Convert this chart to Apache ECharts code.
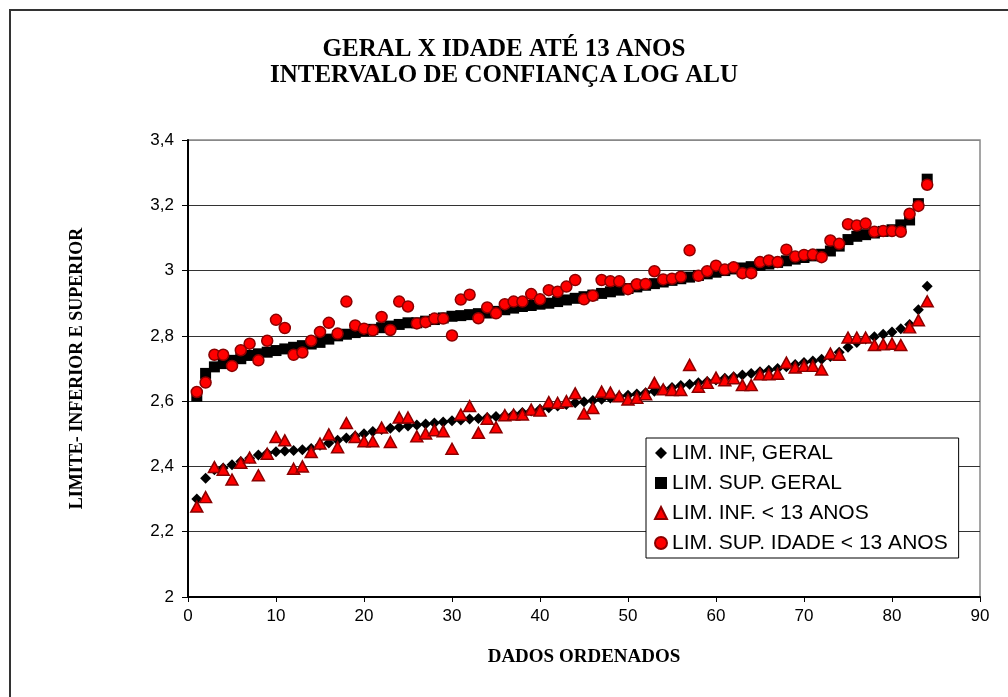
<!DOCTYPE html>
<html>
<head>
<meta charset="utf-8">
<script src="https://cdn.jsdelivr.net/npm/echarts@6/dist/echarts.min.js"></script>
<style>
html,body{margin:0;padding:0;background:#fff;}
#chart{width:1008px;height:697px;}
</style>
</head>
<body>
<div id="chart"></div>
<script>
// ---- DATA ----
var titleLines = ['GERAL X IDADE ATÉ 13 ANOS', 'INTERVALO DE CONFIANÇA LOG ALU'];
var xAxisName = 'DADOS ORDENADOS';
var yAxisName = 'LIMITE- INFERIOR E SUPERIOR';
var seriesNames = ['LIM. INF, GERAL', 'LIM. SUP. GERAL', 'LIM. INF. < 13 ANOS', 'LIM. SUP. IDADE < 13 ANOS'];
var xTicks = [0, 10, 20, 30, 40, 50, 60, 70, 80, 90];
var yTicks = [2, 2.2, 2.4, 2.6, 2.8, 3, 3.2, 3.4];

var limInfGeral = [2.300,2.364,2.390,2.395,2.405,2.415,2.425,2.435,2.440,2.445,
  2.447,2.449,2.451,2.455,2.465,2.472,2.480,2.487,2.493,2.500,
  2.507,2.513,2.517,2.520,2.524,2.527,2.530,2.533,2.536,2.540,
  2.542,2.545,2.547,2.550,2.553,2.556,2.560,2.565,2.570,2.575,
  2.580,2.585,2.590,2.595,2.598,2.602,2.606,2.610,2.614,2.618,
  2.622,2.626,2.630,2.636,2.642,2.648,2.652,2.656,2.660,2.665,
  2.670,2.675,2.680,2.685,2.690,2.695,2.700,2.705,2.712,2.718,
  2.723,2.728,2.737,2.750,2.765,2.780,2.790,2.797,2.805,2.812,
  2.822,2.835,2.880,2.952];

var limSupGeral = [2.615,2.685,2.705,2.715,2.725,2.730,2.740,2.745,2.750,2.755,
  2.760,2.765,2.770,2.775,2.780,2.790,2.800,2.805,2.810,2.815,
  2.820,2.825,2.830,2.835,2.840,2.840,2.845,2.850,2.855,2.860,
  2.862,2.865,2.868,2.870,2.875,2.880,2.885,2.890,2.893,2.897,
  2.900,2.905,2.910,2.915,2.920,2.925,2.930,2.935,2.940,2.945,
  2.950,2.955,2.960,2.965,2.970,2.975,2.980,2.985,2.990,2.995,
  3.000,3.005,3.008,3.012,3.016,3.020,3.025,3.030,3.035,3.040,
  3.045,3.050,3.060,3.075,3.095,3.105,3.110,3.115,3.120,3.125,
  3.140,3.155,3.205,3.280];

var limInf13 = [2.277,2.306,2.398,2.390,2.360,2.411,2.427,2.373,2.439,2.490,
  2.480,2.393,2.400,2.444,2.470,2.498,2.459,2.533,2.490,2.477,
  2.477,2.519,2.475,2.550,2.550,2.492,2.501,2.511,2.508,2.454,
  2.559,2.585,2.503,2.546,2.520,2.557,2.559,2.559,2.574,2.571,
  2.597,2.595,2.600,2.624,2.562,2.579,2.629,2.626,2.615,2.605,
  2.610,2.621,2.656,2.636,2.634,2.634,2.711,2.644,2.656,2.672,
  2.664,2.670,2.649,2.649,2.682,2.682,2.684,2.718,2.703,2.708,
  2.708,2.697,2.746,2.742,2.795,2.795,2.795,2.772,2.774,2.776,
  2.772,2.826,2.848,2.906];

var limSup13 = [2.628,2.657,2.742,2.742,2.708,2.756,2.776,2.725,2.785,2.849,
  2.824,2.742,2.749,2.785,2.812,2.840,2.807,2.905,2.832,2.822,
  2.817,2.858,2.818,2.905,2.890,2.838,2.842,2.853,2.853,2.801,
  2.911,2.926,2.854,2.887,2.869,2.897,2.905,2.905,2.928,2.912,
  2.940,2.935,2.951,2.971,2.912,2.923,2.971,2.967,2.967,2.943,
  2.958,2.959,2.998,2.973,2.975,2.981,3.062,2.984,2.998,3.015,
  3.003,3.010,2.992,2.992,3.026,3.031,3.026,3.064,3.043,3.048,
  3.049,3.041,3.092,3.082,3.142,3.138,3.144,3.119,3.121,3.121,
  3.119,3.174,3.198,3.263];

// ---- CHART ----
function pairs(arr){ return arr.map(function(v,i){ return [i+1, v]; }); }
function fmt(v){ return String(Math.round(v*10)/10).replace('.', ','); }

var chart = echarts.init(document.getElementById('chart'), null, {renderer:'canvas'});
var serif = '"Liberation Serif","Times New Roman",serif';
var sans = '"Liberation Sans",Arial,sans-serif';

var option = {
  animation: false,
  backgroundColor: '#ffffff',
  title: {
    text: titleLines.join('\n'),
    left: 'center',
    top: 32,
    textStyle: {fontFamily: serif, fontWeight: 'bold', fontSize: 25, lineHeight: 26, color: '#000'}
  },
  graphic: [{
    type: 'rect', silent: true, z: -1,
    shape: {x: 10, y: 10, width: 1100, height: 800},
    style: {fill: 'none', stroke: '#333', lineWidth: 2}
  }],
  grid: {left: 188, top: 140, width: 792, height: 457, show: true, borderColor: '#888', borderWidth: 1.5, backgroundColor: '#fff'},
  legend: {
    orient: 'vertical',
    left: 646, top: 438,
    padding: [4, 11, 4, 8],
    itemGap: 8,
    itemWidth: 12, itemHeight: 12,
    borderColor: '#000', borderWidth: 1,
    backgroundColor: '#fff',
    textStyle: {fontFamily: sans, fontSize: 21, lineHeight: 22, color: '#000'},
    data: seriesNames
  },
  xAxis: {
    type: 'value', min: xTicks[0], max: xTicks[xTicks.length-1], interval: 10,
    name: xAxisName, nameLocation: 'middle', nameGap: 51,
    nameTextStyle: {fontFamily: serif, fontWeight: 'bold', fontSize: 19, color: '#000'},
    axisLine: {show: true, lineStyle: {color: '#000', width: 2}},
    axisTick: {show: true, inside: false, length: 5, lineStyle: {color: '#000'}},
    axisLabel: {fontFamily: sans, fontSize: 17, color: '#000', margin: 11},
    splitLine: {show: false}
  },
  yAxis: {
    type: 'value', min: yTicks[0], max: yTicks[yTicks.length-1], interval: 0.2,
    name: yAxisName, nameLocation: 'middle', nameRotate: 90, nameGap: 102,
    nameTextStyle: {fontFamily: serif, fontWeight: 'bold', fontSize: 18, color: '#000'},
    axisLine: {show: true, lineStyle: {color: '#000', width: 2}},
    axisTick: {show: true, inside: false, length: 6, lineStyle: {color: '#000'}},
    axisLabel: {fontFamily: sans, fontSize: 17, color: '#000', margin: 14, formatter: fmt},
    splitLine: {show: true, lineStyle: {color: ['#333','#333','#333','#333','#333','#333','#333','#888'], width: 1}}
  },
  series: [
    {name: seriesNames[0], type: 'scatter', symbol: 'diamond', symbolSize: 11, z: 2,
     itemStyle: {color: '#000', opacity: 1}, data: pairs(limInfGeral)},
    {name: seriesNames[1], type: 'scatter', symbol: 'rect', symbolSize: 11, z: 2,
     itemStyle: {color: '#000', opacity: 1}, data: pairs(limSupGeral)},
    {name: seriesNames[2], type: 'scatter', symbol: 'triangle', symbolSize: [12, 11], z: 3,
     itemStyle: {color: '#ff0000', borderColor: '#8b0000', borderWidth: 1.5, opacity: 1}, data: pairs(limInf13)},
    {name: seriesNames[3], type: 'scatter', symbol: 'circle', symbolSize: 11, z: 3,
     itemStyle: {color: '#ff0000', borderColor: '#8b0000', borderWidth: 1.5, opacity: 1}, data: pairs(limSup13)}
  ]
};
chart.setOption(option);
</script>
</body>
</html>
